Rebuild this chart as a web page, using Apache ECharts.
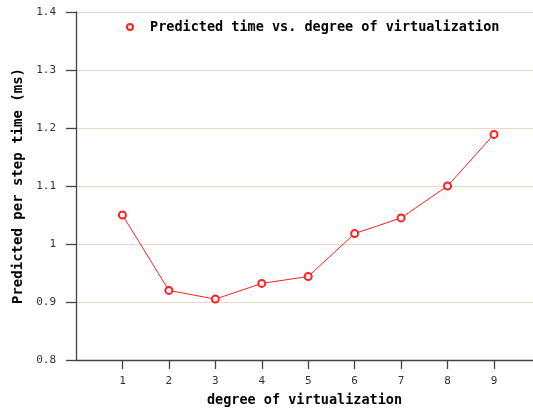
<!DOCTYPE html>
<html><head><meta charset="utf-8">
<script src="https://cdn.jsdelivr.net/npm/echarts@6/dist/echarts.min.js"></script>
<style>html,body{margin:0;padding:0;background:#fff}#c{width:533px;height:409px}</style>
</head><body><div id="c"></div>
<script>
var degrees = [1, 2, 3, 4, 5, 6, 7, 8, 9];
var predictedTime = [1.05, 0.92, 0.905, 0.932, 0.944, 1.018, 1.045, 1.10, 1.189];
var xTicks = [1, 2, 3, 4, 5, 6, 7, 8, 9];
var seriesName = 'Predicted time vs. degree of virtualization';

var chart = echarts.init(document.getElementById('c'), null, {renderer: 'canvas'});
var mono = 'DejaVu Sans Mono';
chart.setOption({
  animation: false,
  backgroundColor: '#fff',
  grid: {left: 76, top: 12, right: 0, bottom: 49, containLabel: false, outerBoundsMode: 'none'},
  legend: {
    show: true, left: 121, top: 15, itemWidth: 30, itemHeight: 6, itemGap: 10,
    data: [{name: seriesName, icon: 'emptyCircle'}],
    itemStyle: {borderWidth: 1},
    textStyle: {fontFamily: mono, fontWeight: 'bold', fontSize: 13.5, color: '#000'}
  },
  xAxis: {
    type: 'value', min: 0, max: 9.84, interval: 1,
    name: 'degree of virtualization', nameLocation: 'middle', nameGap: 33,
    nameTextStyle: {fontFamily: mono, fontWeight: 'bold', fontSize: 13.5, color: '#000'},
    axisLine: {show: true, onZero: false, lineStyle: {color: '#444', width: 1.3}},
    axisTick: {show: true, length: 9, customValues: xTicks, lineStyle: {color: '#444', width: 1.3}},
    axisLabel: {customValues: xTicks, margin: 16, fontFamily: mono, fontSize: 11, color: '#333'},
    splitLine: {show: false}
  },
  yAxis: {
    type: 'value', min: 0.8, max: 1.4, interval: 0.1,
    name: 'Predicted per step time (ms)', nameLocation: 'middle', nameGap: 41,
    nameTextStyle: {fontFamily: mono, fontWeight: 'bold', fontSize: 14, color: '#000'},
    axisLine: {show: true, lineStyle: {color: '#444', width: 1.3}},
    axisTick: {show: true, length: 10, lineStyle: {color: '#444', width: 1.3}},
    axisLabel: {margin: 20, fontFamily: mono, fontSize: 11, color: '#333',
      formatter: function (v) { return +v.toFixed(1) + ''; }},
    splitLine: {show: true, lineStyle: {color: '#f2d3c6', width: 1}}
  },
  series: [{
    name: seriesName, type: 'line',
    data: degrees.map(function (d, i) { return [d, predictedTime[i]]; }),
    symbol: 'emptyCircle', symbolSize: 7,
    lineStyle: {color: '#ff2020', width: 1},
    itemStyle: {color: '#ff2020', borderWidth: 1}
  }]
});
</script></body></html>
